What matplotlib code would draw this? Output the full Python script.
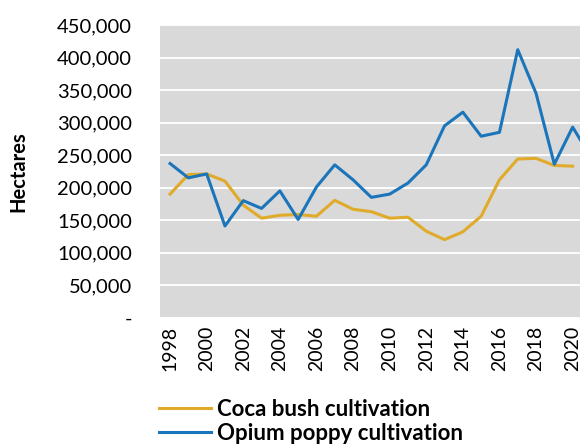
import numpy as np
import matplotlib.pyplot as plt
from matplotlib.ticker import FuncFormatter

years_coca = list(range(1998, 2021))
coca = [190000, 220000, 221000, 210000, 173000, 153000, 157500, 158600, 156000, 180500,
        166700, 163000, 153000, 154500, 133000, 120000, 132000, 156000, 212000, 244000,
        245000, 234000, 233000]

years_opium = list(range(1998, 2022))
opium = [237000, 215000, 221000, 141000, 180000, 168000, 195000, 151000, 201000, 235000,
         212000, 185000, 190000, 207000, 235000, 295000, 316000, 279000, 285000, 412000,
         345000, 236000, 293000, 246800]

plt.rcParams['font.family'] = ['Lato', 'DejaVu Sans']

fig = plt.figure(figsize=(5.8, 4.46), dpi=100)
# axes runs past the right edge of the picture, like the cropped original
ax = fig.add_axes([160/580, 128.3/446, 441/580, 292.7/446])

ax.set_facecolor('#D9D9D9')
ax.plot(years_coca, coca, color='#E0AA2A', lw=2.2, label='Coca bush cultivation')
ax.plot(years_opium, opium, color='#1B75BB', lw=2.2, label='Opium poppy cultivation')

ax.set_ylim(0, 450000)
ax.set_xlim(1997.45, 2021.55)
ax.set_yticks(np.arange(0, 450001, 50000))
ax.yaxis.set_major_formatter(FuncFormatter(lambda v, p: '-' if v == 0 else f'{v:,.0f}'))
ax.set_xticks(range(1998, 2021, 2))
ax.tick_params(axis='x', labelrotation=90, length=0, labelsize=14, pad=6)
ax.tick_params(axis='y', length=0, labelsize=14.5, pad=20)
ax.grid(axis='y', color='white', lw=1.3)
ax.set_axisbelow(True)
for s in ax.spines.values():
    s.set_visible(False)

ax.set_ylabel('Hectares', fontsize=14.5, fontweight='bold')
ax.yaxis.set_label_coords(-0.299, 0.5)

fig.legend(loc='upper left', bbox_to_anchor=(150/580, 1 - 390/446), frameon=False,
           prop={'weight': 'bold', 'size': 16}, handlelength=2.35, handletextpad=0.27,
           labelspacing=0.12, borderaxespad=0)

fig.savefig('out.png', dpi=100)
